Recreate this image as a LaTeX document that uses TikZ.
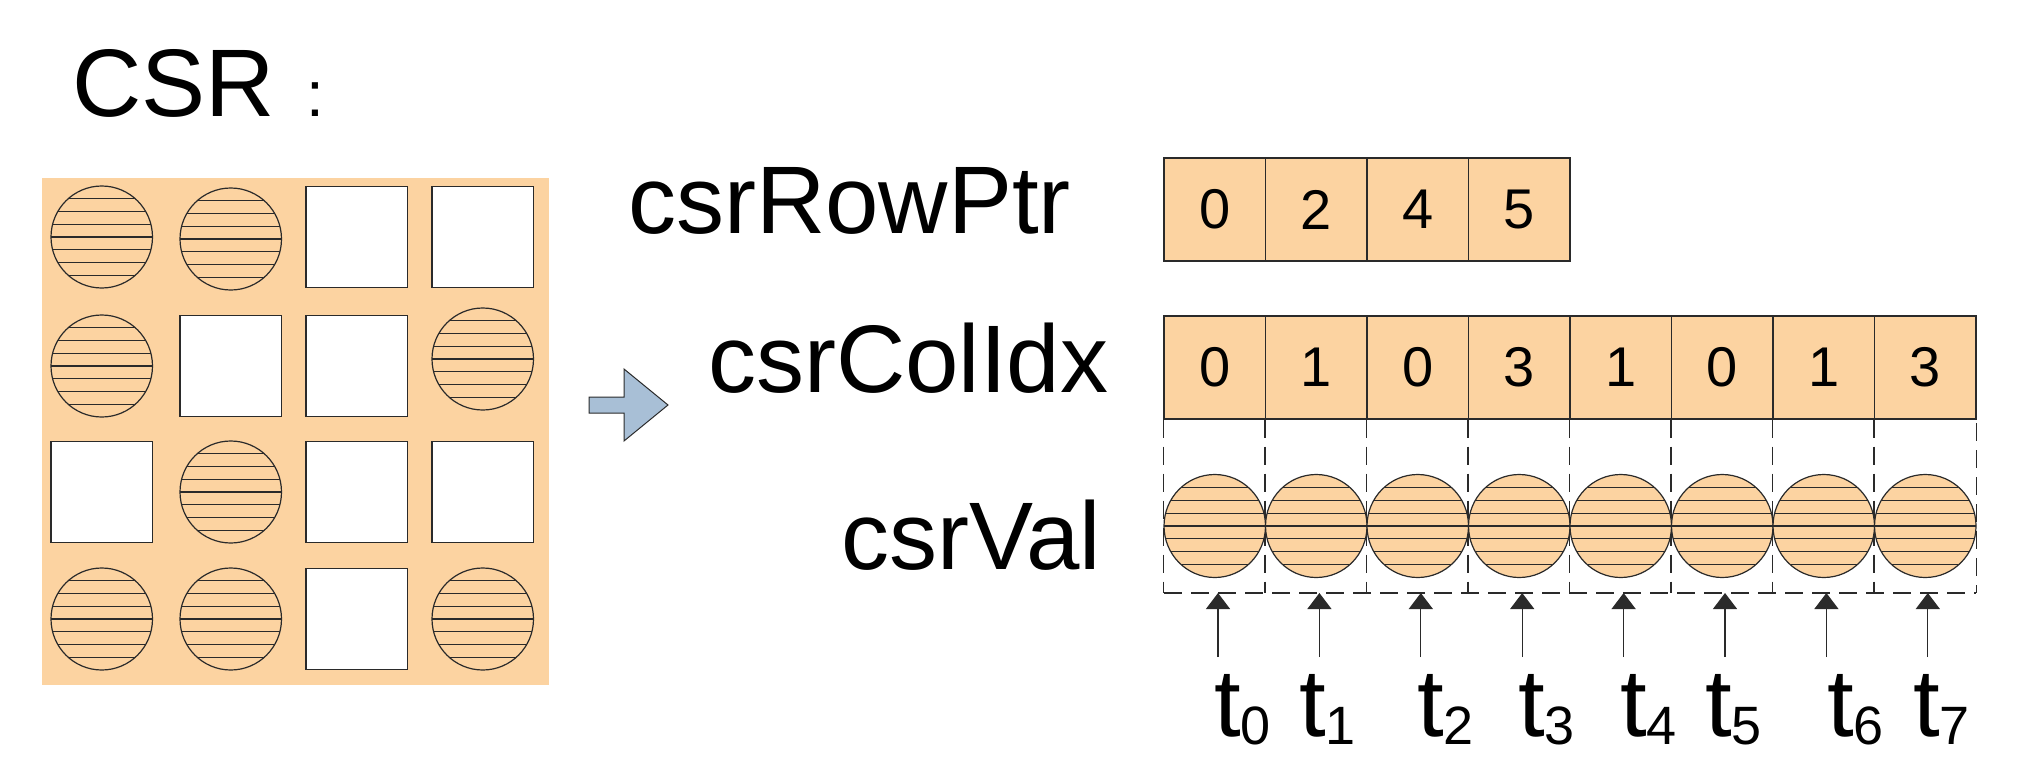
\documentclass[tikz,border=0pt]{standalone}
\usepackage{fontspec}
\setmainfont{Liberation Sans}
\usetikzlibrary{shapes.geometric,arrows.meta,calc}
\definecolor{peach}{HTML}{FCD3A1}
\definecolor{arrowblue}{HTML}{A8BFD6}
\definecolor{edgegray}{HTML}{2A2A2A}
\begin{document}
\begin{tikzpicture}[x=1pt,y=-1pt,
  hatchball/.style={ellipse, draw=edgegray, line width=1.2pt, fill=peach, inner sep=0pt,
    minimum width=101.5pt, minimum height=#1pt,
    path picture={\foreach \k in {-3,...,3}{\draw[line width=1.2pt, edgegray] ($(path picture bounding box.center)+(-60,\k*#1/8)$) -- ++(120,0);}}},
  whitebox/.style={draw=edgegray, fill=white, line width=1.2pt, minimum size=101.5pt, inner sep=0pt},
  cell/.style={draw=edgegray, fill=peach, line width=1.2pt, minimum width=101.5pt, minimum height=103pt, inner sep=0pt, font=\fontsize{56}{60}\selectfont},
  biglabel/.style={anchor=base west, inner sep=0pt, font=\fontsize{96}{110}\selectfont},
  dashline/.style={draw=edgegray, line width=1.2pt, dash pattern=on 18pt off 9pt},
  threadarr/.style={draw=edgegray, line width=1.2pt, -{Triangle[width=24pt,length=16pt]}},
  bigarrow/.style={draw=edgegray, fill=arrowblue, line width=1pt}]
\useasboundingbox (0,0) rectangle (2026,768);

% title
\node[biglabel] (title) at (72,116) {CSR\hspace{32pt}{\fontsize{64}{70}\selectfont :}};

% dense matrix
\node[fill=peach, minimum width=507.3pt, minimum height=507pt, inner sep=0pt] (mat) at (295.35,431.5) {};
% row 1
\node[hatchball=102] (m11) at (101.75,237) {};
\node[hatchball=102] (m12) at (230.75,239) {};
\node[whitebox] (m13) at (356.75,237) {};
\node[whitebox] (m14) at (482.75,237) {};
% row 2
\node[hatchball=102] (m21) at (101.75,366) {};
\node[whitebox] (m22) at (230.75,366) {};
\node[whitebox] (m23) at (356.75,366) {};
\node[hatchball=102] (m24) at (482.75,359) {};
% row 3
\node[whitebox] (m31) at (101.75,492) {};
\node[hatchball=102] (m32) at (230.75,492) {};
\node[whitebox] (m33) at (356.75,492) {};
\node[whitebox] (m34) at (482.75,492) {};
% row 4
\node[hatchball=102] (m41) at (101.75,619) {};
\node[hatchball=102] (m42) at (230.75,619) {};
\node[whitebox] (m43) at (356.75,619) {};
\node[hatchball=102] (m44) at (482.75,619) {};

% conversion arrow
\draw[bigarrow] (589,397) -- (624,397) -- (624,369) -- (668,405) -- (624,441) -- (624,413) -- (589,413) -- cycle;

% labels
\node[biglabel] (lrow) at (628,233) {csrRowPtr};
\node[biglabel] (lcol) at (708,392) {csrColIdx};
\node[biglabel] (lval) at (841,569) {csrVal};

% csrRowPtr
\foreach \v [count=\i from 0] in {0,2,4,5}
  \node[cell] (r\i) at (1214.75+101.5*\i,209.5) {\v};

% dashed guides
\coordinate (bl) at (1164,593);
\coordinate (br) at (1976,593);
\foreach \v [count=\i from 0] in {0,1,0,3,1,0,1,3}
  \node[cell] (c\i) at (1214.75+101.5*\i,367.5) {\v};
\foreach \i in {0,...,7}
  \draw[dashline] (c\i.south west) -- (c\i.south west |- bl);
\draw[dashline] (c7.north east) -- (c7.south east |- br);
\draw[dashline] (bl) -- (br);

% csrVal
\foreach \i in {0,...,7}
  \node[hatchball=103] (v\i) at (1214.75+101.5*\i,526) {};

% threads
\foreach \i in {0,...,7}{
  \coordinate (a\i) at (1218+101.4*\i,657);
  \draw[threadarr] (a\i) -- (a\i |- bl);
}
\foreach \x [count=\i from 0] in {1214,1299,1417,1518,1620,1705,1827,1913}
  \node[biglabel] (t\i) at (\x,736) {t\raisebox{-8pt}{\fontsize{54}{60}\selectfont \i}};
\end{tikzpicture}
\end{document}
